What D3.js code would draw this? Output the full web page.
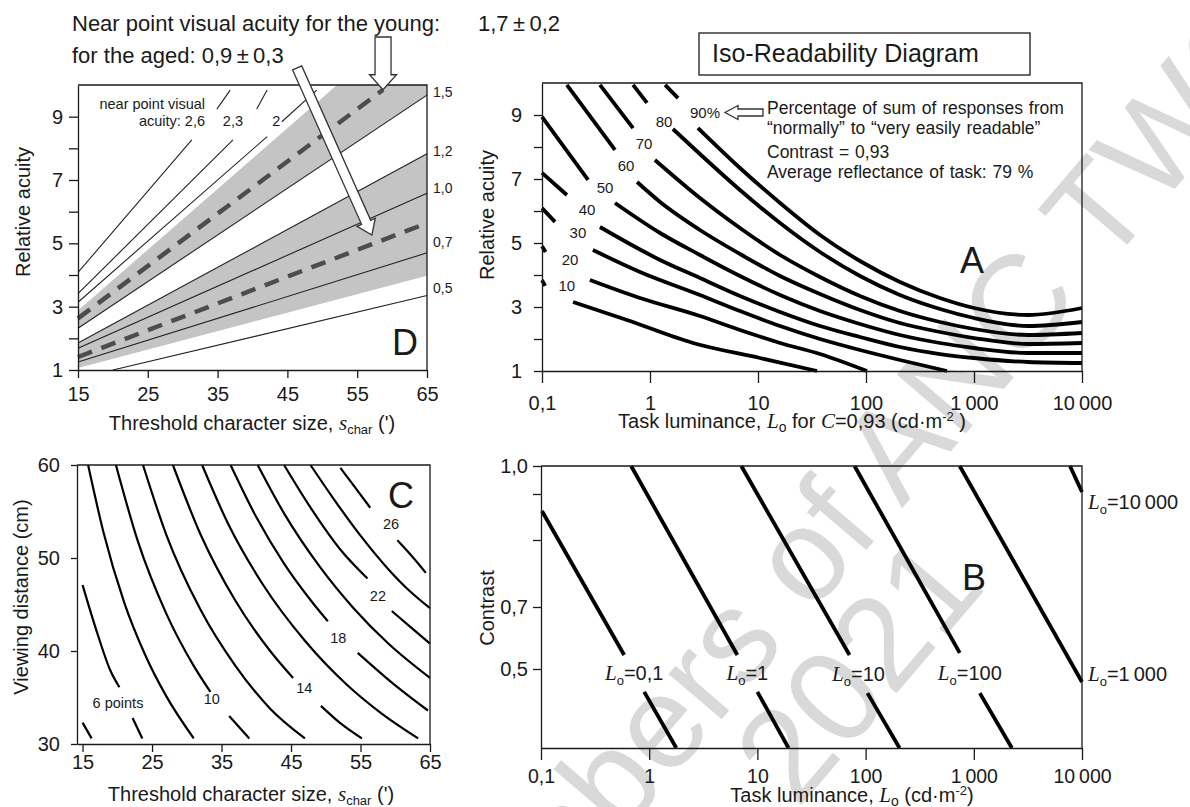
<!DOCTYPE html>
<html><head><meta charset="utf-8">
<script src="https://cdn.jsdelivr.net/npm/d3@7"></script>
<style>
body{margin:0;background:#fff;}
svg{display:block;}
</style></head><body>
<svg id="chart" width="1190" height="807"></svg>
<script>
// ---------------- Panel D : relative acuity vs threshold character size ----------------
const charSizeTicks = [15, 25, 35, 45, 55, 65];
const acuityTicks = [1, 2, 3, 4, 5, 6, 7, 8, 9];
const acuityTickLabels = ["1", "", "3", "", "5", "", "7", "", "9"];
// near-point visual acuity iso-lines, as segments of [threshold size, relative acuity]
const nearPointNames = ["2,6", "2,3", "2", "1,5", "1,2", "1,0", "0,7", "0,5"];
const nearPointSegments = [
  [[[15, 4.08], [31.3, 8.27]], [[34.9, 9.24], [36.8, 9.84]]],
  [[[15, 3.41], [37.2, 8.27]], [[40.6, 9.24], [42.1, 9.84]]],
  [[[15, 3.14], [42.1, 8.37]], [[44.2, 8.84], [49.2, 9.84]]],
  [[[15, 2.32], [65, 9.68]]],
  [[[15, 1.85], [65, 7.83]]],
  [[[15, 1.69], [65, 6.58]]],
  [[[15, 1.25], [65, 4.70]]],
  [[[20, 1.0], [65, 3.35]]]
];
const nearPointLabelAcuity = [null, null, null, 9.78, 7.9, 6.75, 5.04, 3.59];
const youngMean = [[15, 2.63], [58.7, 9.85]];
const agedMean = [[15, 1.41], [65, 5.64]];
const youngBand = [[15, 2.88], [52.1, 10], [65, 10], [65, 9.68], [15, 2.32]];
const agedBand = [[15, 1.85], [65, 7.83], [65, 3.98], [15, 1.06]];

// ---------------- Panel A : iso-readability curves ----------------
const luminanceTicks = [0.1, 1, 10, 100, 1000, 10000];
const luminanceTickLabels = ["0,1", "1", "10", "100", "1\u2009000", "10\u2009000"];
const readabilityNames = ["10", "20", "30", "40", "50", "60", "70", "80", "90%"];
// [task luminance, relative acuity]; part before the label and part after it
const readabilityUpper = [
  [[0.1, 3.84], [0.107, 3.66]],
  [[0.1, 4.9], [0.108, 4.72]],
  [[0.1, 6.09], [0.132, 5.66]],
  [[0.1, 7.19], [0.170, 6.5]],
  [[0.1, 8.94], [0.267, 6.97]],
  [[0.170, 9.94], [0.474, 7.91]],
  [[0.344, 9.94], [0.697, 8.59]],
  [[0.697, 9.94], [0.938, 9.38]],
  [[1.38, 9.94], [1.82, 9.53]]
];
const readabilityLower = [
  [[0.194, 3.156], [0.612, 2.594], [2.50, 1.875], [10.4, 1.406], [35.2, 1.0]],
  [[0.278, 3.844], [0.808, 3.281], [2.90, 2.719], [6.81, 2.281], [16.0, 1.875], [37.5, 1.531], [102, 1.0]],
  [[0.296, 4.781], [0.808, 4.094], [2.90, 3.375], [6.81, 2.875], [16.0, 2.406], [37.5, 2.0], [88, 1.656], [206, 1.344], [562, 1.0]],
  [[0.344, 5.5], [1.24, 4.469], [2.90, 3.906], [6.81, 3.344], [16.0, 2.844], [37.5, 2.406], [88, 2.0625], [206, 1.75], [484, 1.531], [1000, 1.406], [3162, 1.281], [10000, 1.25]],
  [[0.474, 6.25], [1.24, 5.3125], [2.90, 4.625], [6.81, 3.969], [16.0, 3.375], [37.5, 2.875], [88, 2.469], [206, 2.125], [484, 1.875], [1000, 1.719], [3162, 1.5625], [10000, 1.5625]],
  [[0.759, 6.906], [1.24, 6.281], [2.90, 5.406], [6.81, 4.656], [16.0, 3.969], [37.5, 3.406], [88, 2.906], [206, 2.5], [484, 2.219], [1000, 2.031], [3162, 1.844], [10000, 1.875]],
  [[1.11, 7.594], [2.90, 6.406], [6.81, 5.469], [16.0, 4.625], [37.5, 3.9375], [88, 3.344], [206, 2.875], [484, 2.531], [1000, 2.3125], [3162, 2.125], [10000, 2.1875]],
  [[1.63, 8.5625], [2.90, 7.781], [6.81, 6.656], [16.0, 5.625], [37.5, 4.719], [88, 3.969], [206, 3.375], [484, 2.9375], [1000, 2.656], [3162, 2.406], [10000, 2.531]],
  [[2.78, 8.594], [6.81, 7.344], [16.0, 6.25], [37.5, 5.25], [88, 4.4375], [206, 3.781], [484, 3.281], [1000, 2.969], [3162, 2.75], [10000, 2.969]]
];
const readabilityLabelAt = [[0.170, 3.66], [0.182, 4.47], [0.215, 5.31], [0.261, 6.03], [0.383, 6.72], [0.6, 7.41], [0.88, 8.09], [1.35, 8.78], [3.23, 9.06]];

// ---------------- Panel C : viewing distance vs threshold character size ----------------
const distanceTicks = [30, 40, 50, 60];
const pointSizeNames = ["4", "6", "8", "10", "12", "14", "16", "18", "20", "22", "24", "26"];
// [threshold size, viewing distance]
const pointSizeSegments = [
  [[[15, 32.3], [16.3, 30.6]]],
  [[[15, 47.1], [17, 42.2], [19, 37.9], [20.3, 36.1]], [[22.2, 32.8], [23.6, 30.6]]],
  [[[15.8, 60], [18, 52.8], [21, 45.2], [24, 39.6], [27, 35.2], [31, 30.6]]],
  [[[19.8, 60], [23, 51.7], [27, 44.1], [31, 38.4], [33.4, 35.6]], [[36.1, 33.0], [39, 30.6]]],
  [[[23.7, 60], [27, 52.6], [32, 44.4], [37, 38.4], [42, 33.8], [47, 30.6]]],
  [[[28, 60], [32, 52.5], [37, 45.4], [42, 40.0], [45.3, 37.1]], [[49.3, 34.1], [52, 32.3], [55.2, 30.6]]],
  [[[32.2, 60], [36, 53.6], [41, 47.1], [47, 41.1], [53, 36.4], [58, 33.3], [63.3, 30.6]]],
  [[[36.3, 60], [40, 54.4], [44, 49.4], [48, 45.3], [50.3, 43.2]], [[54.6, 39.8], [60, 36.3], [64.7, 33.6]]],
  [[[40.2, 60], [44, 54.8], [49, 49.2], [54, 44.6], [59, 40.8], [65, 37.1]]],
  [[[44, 60], [48, 55.2], [52, 51.0], [56, 47.8]], [[59.5, 44.3], [62, 42.7], [65, 40.8]]],
  [[[47.8, 60], [51, 56.5], [55, 52.4], [59, 48.8], [62, 46.5], [65, 44.6]]],
  [[[52.1, 59.7], [54, 57.8], [56.4, 55.4]], [[60.3, 51.9], [62.5, 50.1], [64.4, 48.4]]]
];
const pointSizeLabels = ["6 points", "10", "14", "18", "22", "26"];
const pointSizeLabelAt = [[20.1, 34.4], [33.6, 34.9], [46.9, 36.0], [51.8, 41.4], [57.5, 45.9], [59.4, 53.7]];

// ---------------- Panel B : contrast vs task luminance ----------------
const contrastTicks = [0.5, 0.7, 0.8, 0.9, 1.0];
const contrastTickLabels = ["0,5", "0,7", "", "", "1,0"];
const isoLuminanceNames = ["0,1", "1", "10", "100", "1\u2009000", "10\u2009000"];
// [task luminance, contrast]
const isoLuminanceSegments = [
  [[[0.102, 0.863], [0.587, 0.545]], [[0.899, 0.442], [1.78, 0.3]]],
  [[[0.681, 1.0], [6.53, 0.545]], [[10, 0.442], [19.4, 0.3]]],
  [[[7.1, 1.0], [71, 0.545]], [[104, 0.439], [206, 0.3]]],
  [[[79, 1.0], [741, 0.552]], [[1137, 0.439], [2249, 0.3]]],
  [[[741, 1.0], [10000, 0.467]]],
  [[[7743, 1.0], [10000, 0.907]]]
];

// ====================================================================================
const SANS = "Arial, 'Liberation Sans', Helvetica, sans-serif";
const SERIF = "'Times New Roman', 'Liberation Serif', serif";
const INK = "#1a1a1a";
const svg = d3.select("#chart").style("font-family", SANS);

// faint diagonal watermark behind the panels
const wm = svg.append("g").attr("fill", "#d9d9d9").style("font-size", "132px");
wm.append("text").attr("transform", "translate(430,1061) rotate(-49.5)").text("Members of ANC TWG");
wm.append("text").attr("transform", "translate(797,810) rotate(-49.5)").text("2021");

function styleAxis(g, fs) {
  g.attr("font-family", null).attr("font-size", null);
  g.select(".domain").attr("stroke", INK).attr("stroke-width", 1.3);
  g.selectAll(".tick line").attr("stroke", INK).attr("stroke-width", 1.3);
  g.selectAll(".tick text").attr("fill", INK).style("font-size", fs + "px");
}
function frame(x0, y0, x1, y1) {
  svg.append("path").attr("d", `M${x0},${y0}H${x1}V${y1}`).attr("fill", "none").attr("stroke", INK).attr("stroke-width", 1.3);
}
function hollowArrow(tail, tip, shaftHalf, headHalf, headLen) {
  const dx = tip[0] - tail[0], dy = tip[1] - tail[1], L = Math.hypot(dx, dy);
  const ux = dx / L, uy = dy / L, nx = -uy, ny = ux;
  const bx = tip[0] - ux * headLen, by = tip[1] - uy * headLen;
  const p = [
    [tail[0] + nx * shaftHalf, tail[1] + ny * shaftHalf],
    [bx + nx * shaftHalf, by + ny * shaftHalf],
    [bx + nx * headHalf, by + ny * headHalf],
    tip,
    [bx - nx * headHalf, by - ny * headHalf],
    [bx - nx * shaftHalf, by - ny * shaftHalf],
    [tail[0] - nx * shaftHalf, tail[1] - ny * shaftHalf]
  ];
  svg.append("path").attr("d", "M" + p.map(q => q.join(",")).join("L") + "Z")
    .attr("fill", "#fff").attr("stroke", "#333").attr("stroke-width", 1.3);
}
function panelLetter(x, y, t) {
  svg.append("text").attr("x", x).attr("y", y).style("font-size", "36px").attr("fill", INK).text(t);
}
function luminanceTitle(x, y, withContrast) {
  const t = svg.append("text").attr("x", x).attr("y", y).attr("text-anchor", "middle").style("font-size", "20px").attr("fill", INK);
  t.append("tspan").text("Task luminance, ");
  t.append("tspan").style("font-family", SERIF).style("font-style", "italic").style("font-size", "21px").text("L");
  t.append("tspan").attr("dy", 4).style("font-size", "14px").text("o");
  if (withContrast) {
    t.append("tspan").attr("dy", -4).text(" for ");
    t.append("tspan").style("font-family", SERIF).style("font-style", "italic").style("font-size", "21px").text("C");
    t.append("tspan").text("=0,93 (cd\u00b7m");
  } else {
    t.append("tspan").attr("dy", -4).text(" (cd\u00b7m");
  }
  t.append("tspan").attr("dy", -7).style("font-size", "13px").text("-2");
  t.append("tspan").attr("dy", 7).text(withContrast ? " )" : ")");
}
function sizeTitle(x, y) {
  const t = svg.append("text").attr("x", x).attr("y", y).attr("text-anchor", "middle").style("font-size", "20px").attr("fill", INK);
  t.append("tspan").text("Threshold character size, ");
  t.append("tspan").style("font-family", SERIF).style("font-style", "italic").style("font-size", "21px").text("s");
  t.append("tspan").attr("dy", 4).style("font-size", "13px").text("char");
  t.append("tspan").attr("dy", -4).text(" (')");
}
function yTitle(x, y, text) {
  svg.append("text").attr("transform", `translate(${x},${y}) rotate(-90)`).attr("text-anchor", "middle")
    .style("font-size", "20px").attr("fill", INK).text(text);
}

// ---------------- Panel D ----------------
const dx = d3.scaleLinear([15, 65], [78, 427]);
const dy = d3.scaleLinear([1, 10], [370, 85]);
const dLine = d3.line().x(d => dx(d[0])).y(d => dy(d[1]));

svg.append("path").attr("d", dLine(youngBand) + "Z").attr("fill", "#c4c4c4");
svg.append("path").attr("d", dLine(agedBand) + "Z").attr("fill", "#c4c4c4");

nearPointSegments.forEach((segs, i) => {
  segs.forEach(s => svg.append("path").attr("d", dLine(s)).attr("fill", "none").attr("stroke", "#222").attr("stroke-width", 1.1));
  if (nearPointLabelAcuity[i] !== null) {
    svg.append("text").attr("x", dx(65) + 6).attr("y", dy(nearPointLabelAcuity[i])).attr("dy", "0.35em")
      .style("font-size", "14px").attr("fill", INK).text(nearPointNames[i]);
  }
});
[youngMean, agedMean].forEach(m => svg.append("path").attr("d", dLine(m)).attr("fill", "none")
  .attr("stroke", "#4d4d4d").attr("stroke-width", 4.5).attr("stroke-dasharray", "15,10"));

svg.append("text").attr("x", dx(33.2)).attr("y", dy(9.25)).attr("text-anchor", "end").style("font-size", "14.5px").attr("fill", INK).text("near point  visual");
svg.append("text").attr("x", dx(33.2)).attr("y", dy(8.7)).attr("text-anchor", "end").style("font-size", "14.5px").attr("fill", INK).text("acuity: " + nearPointNames[0]);
svg.append("text").attr("x", dx(37.2)).attr("y", dy(8.7)).attr("text-anchor", "middle").style("font-size", "14.5px").attr("fill", INK).text(nearPointNames[1]);
svg.append("text").attr("x", dx(43.4)).attr("y", dy(8.7)).attr("text-anchor", "middle").style("font-size", "14.5px").attr("fill", INK).text(nearPointNames[2]);

svg.append("g").attr("transform", "translate(0,370)")
  .call(d3.axisBottom(dx).tickValues(charSizeTicks).tickSize(8).tickPadding(9).tickSizeOuter(0)).call(styleAxis, 20);
svg.append("g").attr("transform", "translate(78,0)")
  .call(d3.axisLeft(dy).tickValues(acuityTicks).tickFormat((d, i) => acuityTickLabels[i]).tickSize(9).tickPadding(6).tickSizeOuter(0)).call(styleAxis, 20);
frame(78, 85, 427, 370);
panelLetter(392, 355, "D");
yTitle(30, 212, "Relative acuity");
sizeTitle(252, 430);

// arrows and headline about near point visual acuity
hollowArrow([dx(58.7), 37], [dx(58.7), dy(9.85)], 8, 13.5, 15);
hollowArrow([dx(46.4), dy(10.54)], [dx(57.1), dy(5.26)], 5, 10, 14);
svg.append("text").attr("x", 72).attr("y", 31).style("font-size", "22px").attr("fill", INK).text("Near point visual acuity for the young:");
svg.append("text").attr("x", 478).attr("y", 31).style("font-size", "22px").attr("fill", INK).text("1,7\u2009\u00b1\u20090,2");
svg.append("text").attr("x", 72).attr("y", 63).style("font-size", "22px").attr("fill", INK).text("for the aged: 0,9\u2009\u00b1\u20090,3");

// ---------------- Panel A ----------------
const ax = d3.scaleLog([0.1, 10000], [542, 1082]);
const ay = d3.scaleLinear([1, 10], [371, 83]);
const aLine = d3.line().x(d => ax(d[0])).y(d => ay(d[1])).curve(d3.curveMonotoneX);
readabilityLower.forEach((c, i) => {
  [readabilityUpper[i], c].forEach(seg => svg.append("path").attr("d", aLine(seg)).attr("fill", "none")
    .attr("stroke", "#000").attr("stroke-width", 3.8).attr("stroke-linecap", "butt"));
  svg.append("text").attr("x", ax(readabilityLabelAt[i][0])).attr("y", ay(readabilityLabelAt[i][1])).attr("dy", "0.35em")
    .attr("text-anchor", "middle").style("font-size", "15px").attr("fill", INK).text(readabilityNames[i]);
});
svg.append("g").attr("transform", "translate(0,371)")
  .call(d3.axisBottom(ax).tickValues(luminanceTicks).tickFormat((d, i) => luminanceTickLabels[i]).tickSize(12).tickPadding(13).tickSizeOuter(0)).call(styleAxis, 20);
svg.append("g").attr("transform", "translate(542,0)")
  .call(d3.axisLeft(ay).tickValues(acuityTicks).tickFormat((d, i) => acuityTickLabels[i]).tickSize(8).tickPadding(12).tickSizeOuter(0)).call(styleAxis, 20);
frame(542, 83, 1082, 371);
panelLetter(960, 273, "A");
yTitle(494, 215, "Relative acuity");
luminanceTitle(792, 428, true);

// title box and notes
svg.append("rect").attr("x", 699).attr("y", 33).attr("width", 331).attr("height", 42).attr("fill", "#fff").attr("stroke", INK).attr("stroke-width", 1.3);
svg.append("text").attr("x", 712).attr("y", 62).style("font-size", "25px").attr("fill", INK).text("Iso-Readability Diagram");
hollowArrow([763, 112.5], [725, 112.5], 3.5, 7, 13);
const notes = ["Percentage of sum of responses from", "\u201cnormally\u201d to \u201cvery easily readable\u201d", "Contrast = 0,93", "Average  reflectance of task: 79 %"];
notes.forEach((t, i) => svg.append("text").attr("x", 767).attr("y", [114, 134, 158, 178][i])
  .style("font-size", "17.5px").attr("fill", INK).style("word-spacing", "1px").text(t));

// ---------------- Panel C ----------------
const cx = d3.scaleLinear([14.2, 65], [77, 430]);
const cy = d3.scaleLinear([30, 60], [744, 465]);
const cLine = d3.line().x(d => cx(d[0])).y(d => cy(d[1])).curve(d3.curveMonotoneX);
pointSizeSegments.forEach(segs => segs.forEach(s => svg.append("path").attr("d", cLine(s)).attr("fill", "none")
  .attr("stroke", "#000").attr("stroke-width", 2.2)));
pointSizeLabels.forEach((t, i) => svg.append("text").attr("x", cx(pointSizeLabelAt[i][0])).attr("y", cy(pointSizeLabelAt[i][1]))
  .attr("dy", "0.35em").attr("text-anchor", "middle").style("font-size", "14.5px").attr("fill", INK).text(t));
svg.append("g").attr("transform", "translate(0,744)")
  .call(d3.axisBottom(cx).tickValues(charSizeTicks).tickSize(8).tickPadding(3).tickSizeOuter(0)).call(styleAxis, 20);
svg.append("g").attr("transform", "translate(77,0)")
  .call(d3.axisLeft(cy).tickValues(distanceTicks).tickSize(6).tickPadding(11).tickSizeOuter(0)).call(styleAxis, 20);
frame(77, 465, 430, 744);
panelLetter(388, 508, "C");
yTitle(28, 597, "Viewing distance (cm)");
sizeTitle(251, 801);

// ---------------- Panel B ----------------
const bx = d3.scaleLog([0.1, 10000], [541, 1082]);
const by = d3.scaleLinear([0.3, 0.5, 0.7, 0.8, 0.9, 1.0], [748, 669, 607, 540, 494, 466]);
const bLine = d3.line().x(d => bx(d[0])).y(d => by(d[1]));
isoLuminanceSegments.forEach((segs, i) => {
  segs.forEach(s => svg.append("path").attr("d", bLine(s)).attr("fill", "none").attr("stroke", "#000").attr("stroke-width", 3.8));
  let px, py, anchor;
  if (segs.length === 2) {
    const a = segs[0][1], b = segs[1][0];
    px = (bx(a[0]) + bx(b[0])) / 2; py = (by(a[1]) + by(b[1])) / 2; anchor = "middle";
  } else {
    const e = segs[0][1];
    px = bx(e[0]) + 6; py = by(e[1]) - 8 + (i === 5 ? 18 : 0); anchor = "start";
  }
  const t = svg.append("text").attr("x", px).attr("y", py).attr("dy", "0.35em").attr("text-anchor", anchor).style("font-size", "20px").attr("fill", INK);
  t.append("tspan").style("font-family", SERIF).style("font-style", "italic").style("font-size", "21px").text("L");
  t.append("tspan").attr("dy", 5).style("font-size", "13px").text("o");
  t.append("tspan").attr("dy", -5).text("=" + isoLuminanceNames[i]);
});
svg.append("g").attr("transform", "translate(0,748)")
  .call(d3.axisBottom(bx).tickValues(luminanceTicks).tickFormat((d, i) => luminanceTickLabels[i]).tickSize(12).tickPadding(9).tickSizeOuter(0)).call(styleAxis, 19.5);
svg.append("g").attr("transform", "translate(541,0)")
  .call(d3.axisLeft(by).tickValues(contrastTicks).tickFormat((d, i) => contrastTickLabels[i]).tickSize(8).tickPadding(5).tickSizeOuter(0)).call(styleAxis, 20);
frame(541, 466, 1082, 748);
panelLetter(962, 590, "B");
yTitle(494, 608, "Contrast");
luminanceTitle(852, 802, false);
</script>
</body></html>
